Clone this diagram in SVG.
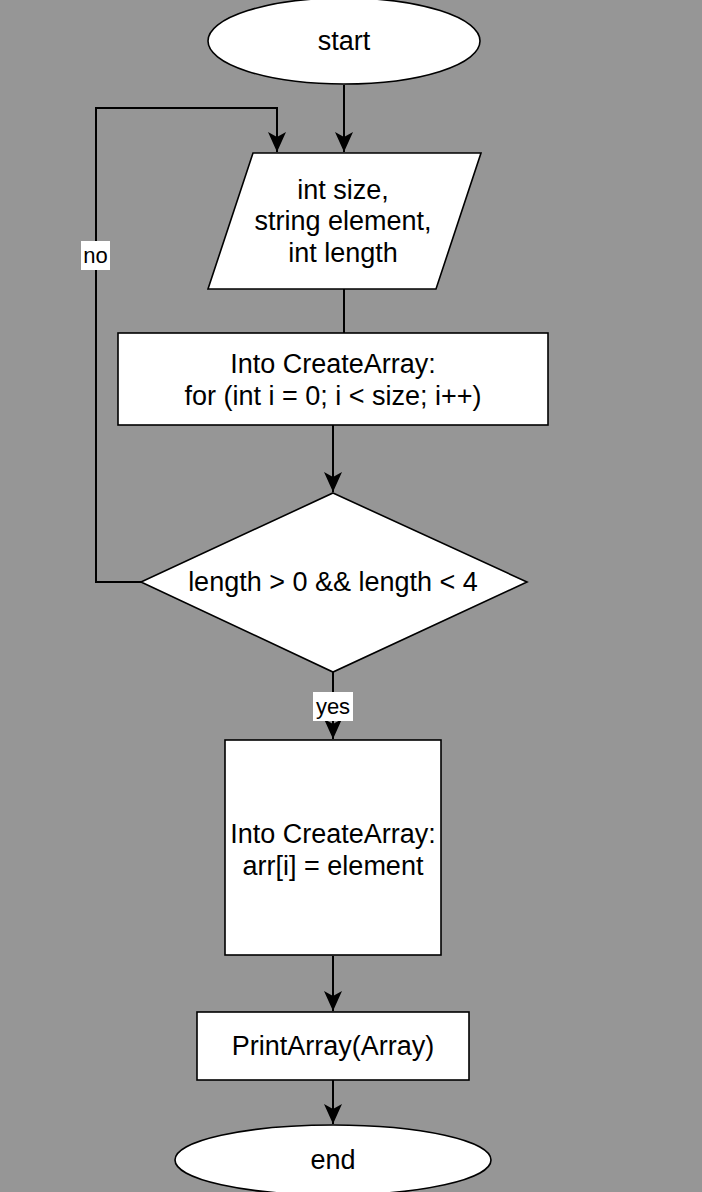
<svg xmlns="http://www.w3.org/2000/svg" width="702" height="1192" viewBox="0 0 702 1192">
<defs>
<marker id="arr" viewBox="0 0 20 18" refX="20" refY="9" markerWidth="20" markerHeight="18" markerUnits="userSpaceOnUse" orient="auto">
<path d="M0,0 L20,9 L0,18 L5,9 Z" fill="#000"/>
</marker>
</defs>
<style>
.shape{fill:#fff;stroke:#000;stroke-width:1.6}
.edge{fill:none;stroke:#000;stroke-width:2}
.t{font-family:"Liberation Sans",Arial,sans-serif;font-size:27px;fill:#000;text-anchor:middle;dominant-baseline:central}
.lbl{font-family:"Liberation Sans",Arial,sans-serif;font-size:22px;fill:#000;text-anchor:middle;dominant-baseline:central}
</style>
<rect x="0" y="0" width="702" height="1192" fill="#969696"/>
<g id="connectors">
<path class="edge" d="M344,85 L344,152" marker-end="url(#arr)"/>
<path class="edge" d="M141,582 L96,582 L96,108 L277,108 L277,152" marker-end="url(#arr)"/>
<path class="edge" d="M344,289 L344,333"/>
<path class="edge" d="M333,425 L333,492" marker-end="url(#arr)"/>
<path class="edge" d="M333,672 L333,739" marker-end="url(#arr)"/>
<path class="edge" d="M333,956 L333,1011" marker-end="url(#arr)"/>
<path class="edge" d="M333,1080 L333,1124" marker-end="url(#arr)"/>
<g id="label-no">
<rect x="81" y="241" width="29" height="29" fill="#fff"/>
<text class="lbl" x="95.5" y="255">no</text>
</g>
<g id="label-yes">
<rect x="313" y="692" width="40" height="29" fill="#fff"/>
<text class="lbl" x="333" y="706">yes</text>
</g>
</g>
<g id="start">
<ellipse class="shape" cx="344" cy="41" rx="136" ry="43"/>
<text class="t" x="344" y="41">start</text>
</g>
<g id="input">
<polygon class="shape" points="253,153 481,153 436,289 208,289"/>
<text class="t" x="343" y="190">int size,</text>
<text class="t" x="343" y="221">string element,</text>
<text class="t" x="343" y="253">int length</text>
</g>
<g id="loop">
<rect class="shape" x="118" y="333" width="430" height="92"/>
<text class="t" x="333" y="364">Into CreateArray:</text>
<text class="t" x="333" y="396">for (int i = 0; i &lt; size; i++)</text>
</g>
<g id="check">
<polygon class="shape" points="333,493 527,582 333,672 141,582"/>
<text class="t" x="333" y="582">length &gt; 0 &amp;&amp; length &lt; 4</text>
</g>
<g id="assign">
<rect class="shape" x="225" y="740" width="216" height="215"/>
<text class="t" x="333" y="834">Into CreateArray:</text>
<text class="t" x="333" y="866">arr[i] = element</text>
</g>
<g id="print">
<rect class="shape" x="197" y="1012" width="272" height="68"/>
<text class="t" x="333" y="1046">PrintArray(Array)</text>
</g>
<g id="end">
<ellipse class="shape" cx="333" cy="1160" rx="158" ry="35"/>
<text class="t" x="333" y="1160">end</text>
</g>
</svg>
